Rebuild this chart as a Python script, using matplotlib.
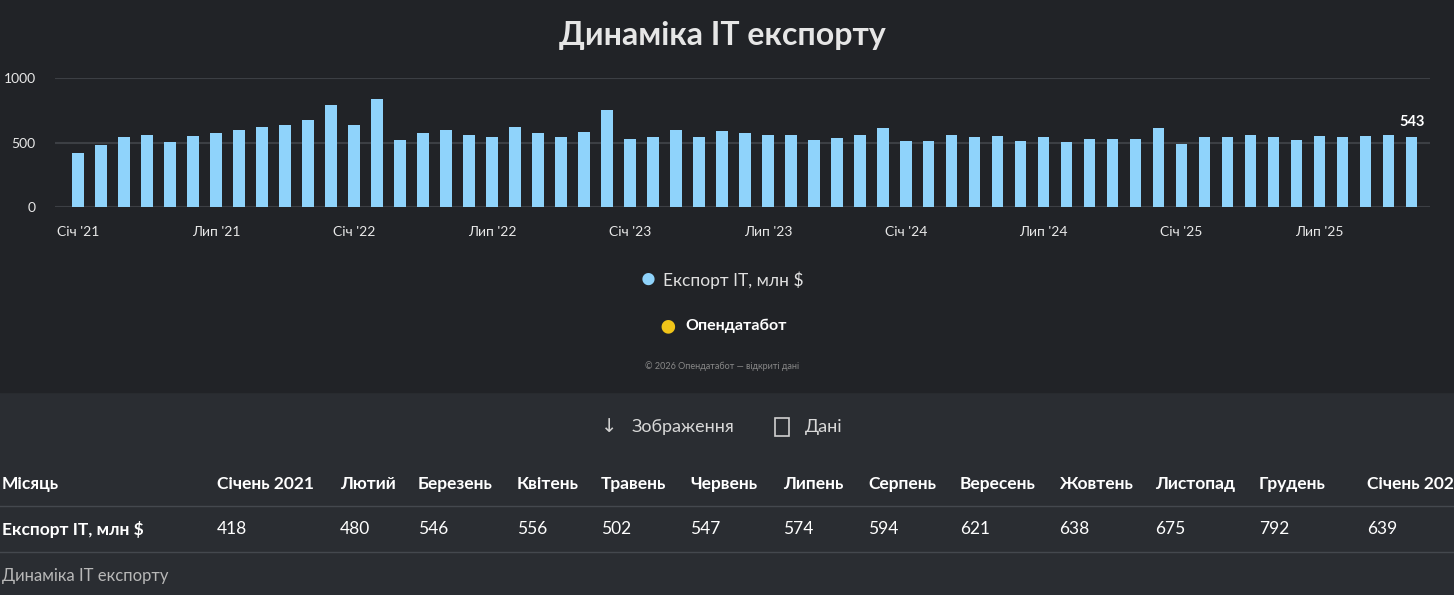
import numpy as np
import matplotlib as mpl
mpl.use('Agg')
import matplotlib.pyplot as plt

values = [418, 480, 546, 556, 502, 547, 574, 594, 621, 638, 675, 792,
          639, 835, 521, 570, 598, 562, 540, 618, 570, 540, 580, 750,
          528, 546, 598, 540, 589, 573, 562, 562, 523, 535, 562, 613,
          508, 515, 562, 545, 553, 513, 546, 505, 525, 531, 525, 614,
          490, 540, 546, 560, 546, 522, 553, 540, 553, 560, 543]
tick_pos = [0, 6, 12, 18, 24, 30, 36, 42, 48, 54]
tick_labels = ["Січ '21", "Лип '21", "Січ '22", "Лип '22", "Січ '23", "Лип '23",
               "Січ '24", "Лип '24", "Січ '25", "Лип '25"]
table_head = ["Місяць", "Січень 2021", "Лютий", "Березень", "Квітень", "Травень",
              "Червень", "Липень", "Серпень", "Вересень", "Жовтень", "Листопад",
              "Грудень", "Січень 2022"]
table_row = ["Експорт IT, млн $"] + [str(v) for v in values[:13]]
col_x = [2, 217, 340, 418, 517, 601, 690, 783, 868, 960, 1059, 1155, 1259, 1367]

plt.rcParams['font.family'] = ['Lato', 'DejaVu Sans']

W, H = 1454, 595
fig = plt.figure(figsize=(W / 100, H / 100), dpi=100, facecolor="#2a2d32")
bg = plt.Rectangle((0, 1 - 392 / H), 1, 392 / H, transform=fig.transFigure,
                   color="#212327", zorder=-10)
fig.add_artist(bg)

ax = fig.add_axes([55 / W, 1 - 207 / H, (1430 - 55) / W, (207 - 78) / H])
ax.set_facecolor("none")
ax.set_zorder(5)
x = np.arange(len(values))
ax.bar(x, values, width=0.5, color="#8fd3fb", zorder=3)
ax.set_ylim(0, 1000)
ax.set_xlim(-1, len(values) - 0.2)
ax.set_yticks([0, 500, 1000])
ax.set_yticklabels(["0", "500", "1000"])
ax.set_xticks(tick_pos)
ax.set_xticklabels(tick_labels)
ax.tick_params(colors="#e8e8e8", labelsize=10, length=0)
ax.tick_params(axis="x", pad=14)
ax.tick_params(axis="y", pad=14)
ax.grid(axis="y", color="#3c3f44", lw=1.5, zorder=0)
for s in ax.spines.values():
    s.set_visible(False)
ax.text(x[-1], values[-1] + 60, str(values[-1]), color="white", fontsize=10.5,
        fontweight="bold", ha="center", va="bottom")

def fy(py):
    return 1 - py / H

fig.text(722 / W, fy(35), "Динаміка IT експорту", color="#e6e6e6", fontsize=23,
         fontweight="bold", ha="center", va="center")
fig.text(648 / W, fy(279), "●", color="#8fd3fb", fontsize=18, ha="center", va="center")
fig.text(663 / W, fy(280), "Експорт IT, млн $", color="#e0e0e0", fontsize=12.5, va="center")
fig.text(668 / W, fy(326), "●", color="#f0c419", fontsize=20, ha="center", va="center")
fig.text(685 / W, fy(326), "Опендатабот", color="white", fontsize=11.5,
         fontweight="bold", va="center")
fig.text(722 / W, fy(366), "© 2026 Опендатабот — відкриті дані", color="#888888",
         fontsize=6.5, ha="center", va="center")
fig.text(601 / W, fy(427), "↓", color="#d0d0d0", fontsize=14, va="center",
         family=['DejaVu Sans'])
fig.text(632 / W, fy(427), "Зображення", color="#d8d8d8", fontsize=13, va="center")
fig.add_artist(plt.Rectangle((775 / W, fy(436)), 14 / W, 18 / H, transform=fig.transFigure,
                             fill=False, ec="#d0d0d0", lw=1.2))
fig.text(805 / W, fy(427), "Дані", color="#d8d8d8", fontsize=13, va="center")

for cx, h, r in zip(col_x, table_head, table_row):
    fig.text(cx / W, fy(484), h, color="white", fontsize=12.5, fontweight="bold", va="center")
    fig.text(cx / W, fy(529), r, color="white", fontsize=12.5,
             fontweight="bold" if cx == 2 else "normal", va="center")
for ly in (506, 552):
    fig.add_artist(plt.Line2D([0, 1], [fy(ly), fy(ly)], color="#44484e", lw=1,
                              transform=fig.transFigure))
fig.text(2 / W, fy(576), "Динаміка IT експорту", color="#b8b8b8", fontsize=12, va="center")

plt.savefig("out.png", dpi=100, facecolor=fig.get_facecolor())
